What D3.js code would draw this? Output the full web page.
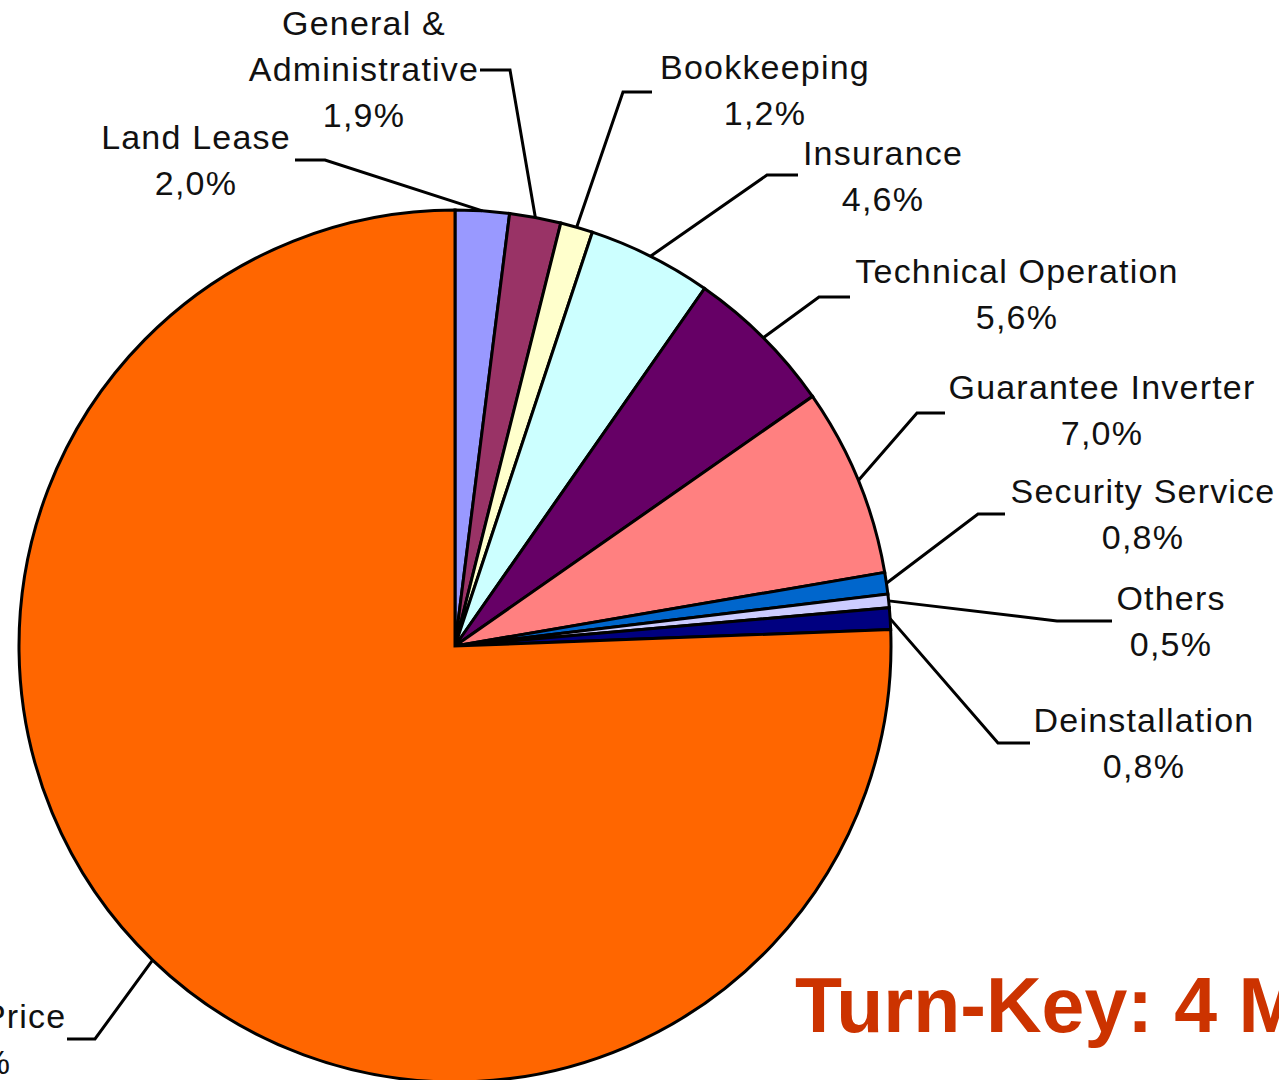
<!DOCTYPE html>
<html>
<head>
<meta charset="utf-8">
<script src="https://cdn.jsdelivr.net/npm/d3@7"></script>
<style>
  body { margin: 0; background: #fff; overflow: hidden; }
  text { font-family: "Liberation Sans", Arial, sans-serif; }
</style>
</head>
<body>
<svg width="1279" height="1080"></svg>
<script>
// slices, clockwise from 12 o'clock
var names = ["Land Lease", "General & Administrative", "Bookkeeping", "Insurance",
  "Technical Operation", "Guarantee Inverter", "Security Service", "Others",
  "Deinstallation", "Module Price"];
var values = [2.0, 1.9, 1.2, 4.6, 5.6, 7.0, 0.8, 0.5, 0.8, 75.6];
var colors = ["#9999FF", "#993366", "#FFFFCC", "#CCFFFF", "#660066", "#FF8080",
  "#0066CC", "#CCCCFF", "#000080", "#FF6600"];

// label text lines (name lines) – percentage line is added from values
var labelLines = [["Land Lease"], ["General &", "Administrative"], ["Bookkeeping"],
  ["Insurance"], ["Technical Operation"], ["Guarantee Inverter"], ["Security Service"],
  ["Others"], ["Deinstallation"], ["Module Price"]];

// label layout: text centre x, first baseline y, leader stub start x/y, elbow x
var labelLayout = [
  { tx: 196, ty: 149, sx: 295, sy: 160, ex: 325 },
  { tx: 364, ty: 35, sx: 480, sy: 70, ex: 510 },
  { tx: 765, ty: 79, sx: 652, sy: 92, ex: 623 },
  { tx: 883, ty: 165, sx: 798, sy: 175, ex: 767 },
  { tx: 1017, ty: 283, sx: 850, sy: 297, ex: 819 },
  { tx: 1102, ty: 399, sx: 945, sy: 413, ex: 917 },
  { tx: 1143, ty: 503, sx: 1005, sy: 514, ex: 978 },
  { tx: 1171, ty: 610, sx: 1112, sy: 621, ex: 1057 },
  { tx: 1144, ty: 732, sx: 1030, sy: 743, ex: 998 },
  { tx: -40, ty: 1028, sx: 67, sy: 1039, ex: 95 }
];

var svg = d3.select("svg"),
    cx = 455,
    cy = 646,
    radius = 436,
    lineGap = 46;

var data = names.map(function(n, i) { return { name: n, value: values[i], i: i }; });

var pie = d3.pie()
    .sort(null)
    .value(function(d) { return d.value; });

var arc = d3.arc()
    .innerRadius(0)
    .outerRadius(radius);

var arcs = pie(data);

var g = svg.append("g")
    .attr("transform", "translate(" + cx + "," + cy + ")");

// slices
g.selectAll("path.slice")
  .data(arcs)
  .enter()
  .append("path")
  .attr("class", "slice")
  .attr("d", arc)
  .attr("fill", function(d) { return colors[d.data.i]; })
  .attr("stroke", "#000")
  .attr("stroke-width", 3)
  .attr("stroke-linejoin", "miter");

var fmt = function(v) { return d3.format(".1f")(v).replace(".", ",") + "%"; };

// leader lines: label stub -> elbow -> rim at mid angle
svg.selectAll("polyline.leader")
  .data(arcs)
  .enter()
  .append("polyline")
  .attr("class", "leader")
  .attr("fill", "none")
  .attr("stroke", "#000")
  .attr("stroke-width", 3)
  .attr("points", function(d) {
    var L = labelLayout[d.data.i];
    var a = (d.startAngle + d.endAngle) / 2;
    var rx = cx + radius * Math.sin(a),
        ry = cy - radius * Math.cos(a);
    return [[L.sx, L.sy], [L.ex, L.sy], [rx, ry]].join(" ");
  });

// labels
var labels = svg.selectAll("text.label")
  .data(arcs)
  .enter()
  .append("text")
  .attr("class", "label")
  .attr("text-anchor", "middle")
  .attr("font-size", 34)
  .attr("letter-spacing", 1.2)
  .attr("fill", "#111");

labels.each(function(d) {
  var L = labelLayout[d.data.i];
  var lines = labelLines[d.data.i].concat([fmt(d.data.value)]);
  var t = d3.select(this);
  lines.forEach(function(s, k) {
    t.append("tspan")
      .attr("x", L.tx)
      .attr("y", L.ty + k * lineGap)
      .text(s);
  });
});

// title
svg.append("text")
  .attr("x", 795)
  .attr("y", 1032)
  .attr("font-size", 77)
  .attr("font-weight", "bold")
  .attr("fill", "#CC3300")
  .text("Turn-Key: 4 MWp");
</script>
</body>
</html>
